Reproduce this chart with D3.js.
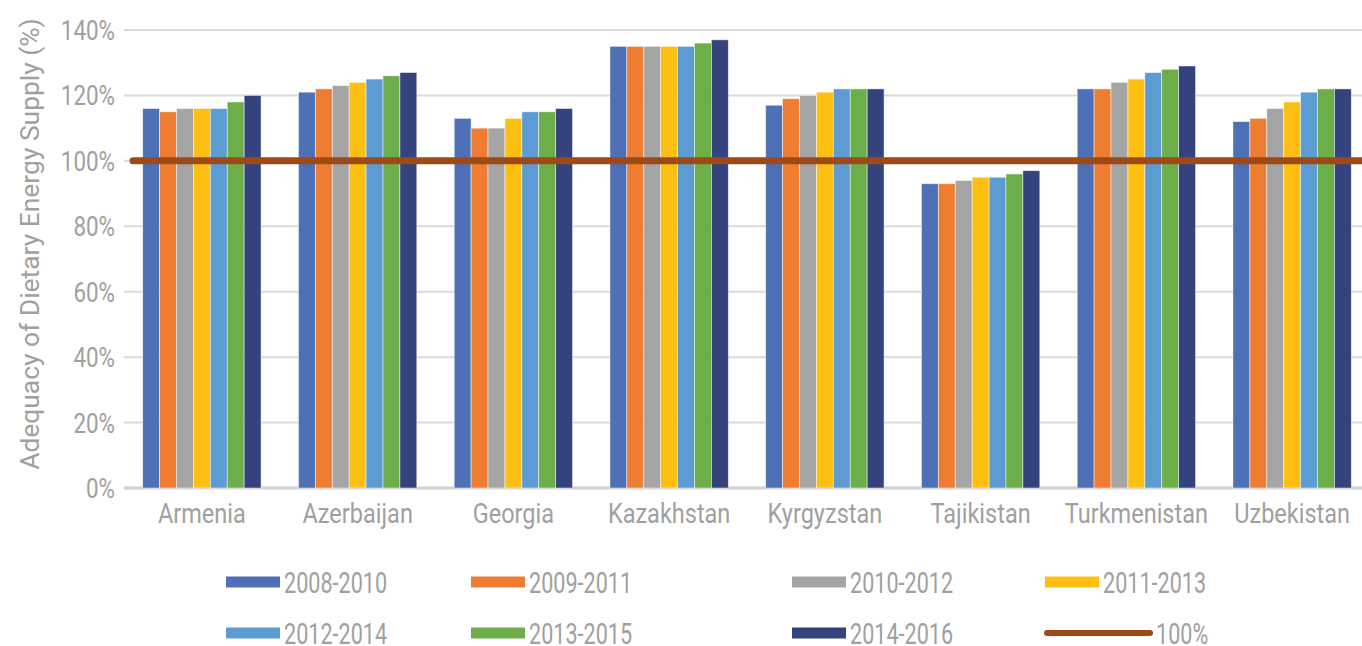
<!DOCTYPE html>
<style>body { margin: 0; } svg { display: block; }</style>
<svg width="1362" height="646"></svg>
<script src="https://d3js.org/d3.v7.min.js"></script>
<script>

// Countries and period series
var countries = ["Armenia", "Azerbaijan", "Georgia", "Kazakhstan", "Kyrgyzstan", "Tajikistan", "Turkmenistan", "Uzbekistan"];
var periods = ["2008-2010", "2009-2011", "2010-2012", "2011-2013", "2012-2014", "2013-2015", "2014-2016"];
var colors = ["#4e70b7", "#ee7d31", "#a5a5a5", "#fdbf12", "#5d9bd3", "#6cae4a", "#34437d"];

// values[country][period], in %
var values = [
  [116, 115, 116, 116, 116, 118, 120],
  [121, 122, 123, 124, 125, 126, 127],
  [113, 110, 110, 113, 115, 115, 116],
  [135, 135, 135, 135, 135, 136, 137],
  [117, 119, 120, 121, 122, 122, 122],
  [93, 93, 94, 95, 95, 96, 97],
  [122, 122, 124, 125, 127, 128, 129],
  [112, 113, 116, 118, 121, 122, 122]
];
var yTicks = [0, 20, 40, 60, 80, 100, 120, 140];
var reference = 100;

var svg = d3.select("svg"),
    font = "Roboto, sans-serif",
    grey = "#a0a0a0",
    squeeze = 0.8;

// condensed look: place text with translate + horizontal scale
function place(sel, fx, fy, sx) {
  sel.attr("transform", function(d, i) {
    return "translate(" + fx(d, i) + "," + fy(d, i) + ") scale(" + (sx || squeeze) + ",1)";
  });
}

var x0 = d3.scaleBand().domain(countries).range([124, 1370]).paddingInner(0.24).paddingOuter(0.12);
var x1 = d3.scaleBand().domain(periods).range([0, x0.bandwidth()]);
var y = d3.scaleLinear().domain([0, 140]).range([488, 30]);

// grid
svg.append("g").selectAll("line")
  .data(yTicks)
  .enter().append("line")
    .attr("x1", 124).attr("x2", 1362)
    .attr("y1", function(d) { return y(d); })
    .attr("y2", function(d) { return y(d); })
    .attr("stroke", function(d) { return d === 0 ? "#d0d0d0" : "#dadada"; })
    .attr("stroke-width", function(d) { return d === 0 ? 3 : 2; });

// y tick labels
var yLab = svg.append("g").selectAll("text")
  .data(yTicks)
  .enter().append("text")
    .attr("text-anchor", "end")
    .attr("font-family", font).attr("font-size", 28).attr("fill", grey)
    .text(function(d) { return d + "%"; });
place(yLab, function() { return 115; }, function(d) { return y(d) + 10; });

// y title, stretched to the reference length
var title = svg.append("text")
  .attr("text-anchor", "middle")
  .attr("font-family", font).attr("font-size", 26).attr("fill", grey)
  .text("Adequacy of Dietary Energy Supply (%)");
var tl = title.node().getComputedTextLength();
title.attr("transform", "translate(39,244) rotate(-90) scale(" + (452 / tl) + ",1)");

// bars
var group = svg.append("g").selectAll("g")
  .data(countries)
  .enter().append("g")
    .attr("transform", function(d) { return "translate(" + x0(d) + ",0)"; });

group.selectAll("rect")
  .data(function(d, i) { return values[i].map(function(v, j) { return {period: periods[j], value: v, color: colors[j]}; }); })
  .enter().append("rect")
    .attr("x", function(d) { return x1(d.period); })
    .attr("y", function(d) { return y(d.value); })
    .attr("width", x1.bandwidth())
    .attr("height", function(d) { return y(0) - y(d.value); })
    .attr("fill", function(d) { return d.color; })
    .attr("stroke", "#ffffff").attr("stroke-opacity", 0.6).attr("stroke-width", 0.8);

// category labels
var xLab = svg.append("g").selectAll("text")
  .data(countries)
  .enter().append("text")
    .attr("text-anchor", "middle")
    .attr("font-family", font).attr("font-size", 28).attr("fill", grey)
    .text(function(d) { return d; });
place(xLab, function(d) { return x0(d) + x0.bandwidth() / 2; }, function() { return 523; }, 0.84);

// 100% line
svg.append("line")
  .attr("x1", 133).attr("x2", 1362)
  .attr("y1", y(reference)).attr("y2", y(reference))
  .attr("stroke", "#9e4a17").attr("stroke-width", 7).attr("stroke-linecap", "round");

// legend
var legendX = [226, 471, 792, 1045],
    legendY = [582, 633];

var items = periods.map(function(p, i) { return {label: p, color: colors[i], kind: "bar"}; });
items.push({label: "100%", color: "#9e4a17", kind: "line"});

var legend = svg.append("g").selectAll("g")
  .data(items)
  .enter().append("g")
    .attr("transform", function(d, i) { return "translate(" + legendX[i % 4] + "," + legendY[Math.floor(i / 4)] + ")"; });

legend.filter(function(d) { return d.kind === "bar"; })
  .append("rect")
    .attr("x", 0).attr("y", -5.5).attr("width", 54).attr("height", 11)
    .attr("fill", function(d) { return d.color; });

legend.filter(function(d) { return d.kind === "line"; })
  .append("line")
    .attr("x1", 2).attr("x2", 105).attr("y1", 0).attr("y2", 0)
    .attr("stroke", function(d) { return d.color; })
    .attr("stroke-width", 6).attr("stroke-linecap", "round");

var legText = legend.append("text")
  .attr("font-family", font).attr("font-size", 30).attr("fill", grey)
  .text(function(d) { return d.label; });
place(legText, function(d) { return d.kind === "line" ? 111 : 58; }, function() { return 11; }, 0.72);

</script>
